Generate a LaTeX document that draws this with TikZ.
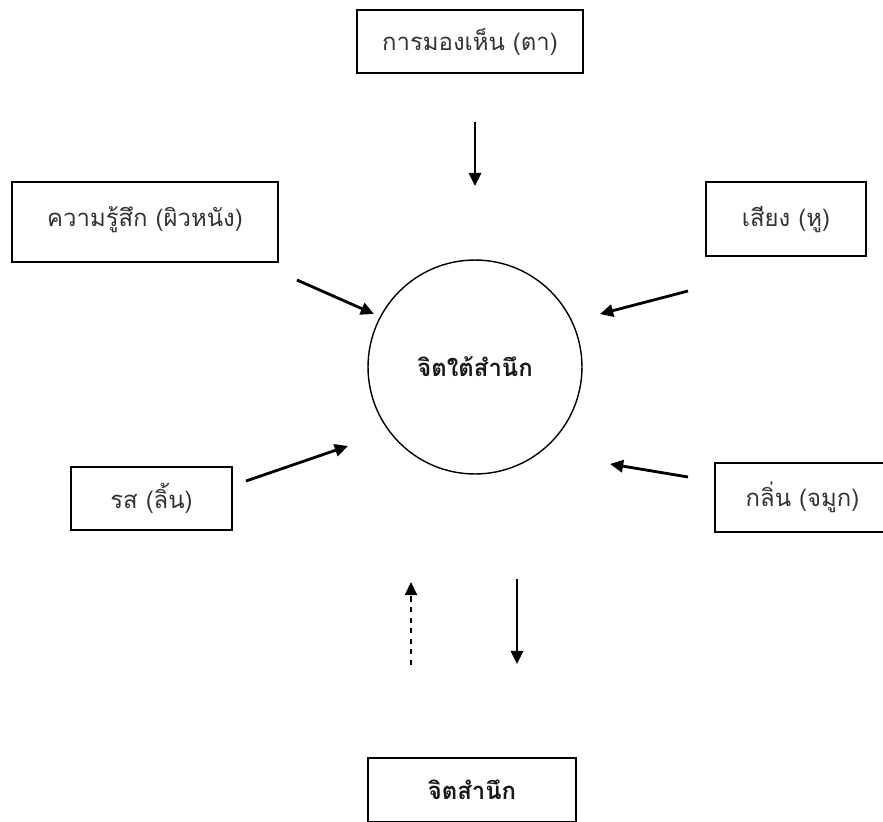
\documentclass[tikz,border=0pt]{standalone}
\usepackage{fontspec}
\newfontfamily\thaifont[Script=Thai]{Loma}
\usetikzlibrary{arrows.meta}
\begin{document}
\begin{tikzpicture}[x=0.02cm, y=-0.02cm, font=\thaifont\fontsize{13.6}{15}\selectfont,
  sense/.style={draw, line width=0.8pt, inner sep=0pt, align=center, text=black!80},
  mind/.style={font=\thaifont\bfseries\fontsize{13.6}{15}\selectfont, text=black!90},
  feed/.style={-{Triangle[length=7.5pt, width=7pt]}, line width=1.6pt}]
  \useasboundingbox (0,0) rectangle (883,822);
  \clip (0,0) rectangle (883,822);
  \node[sense, minimum width=4.52cm, minimum height=1.26cm] (eye) at (470,41.5) {การมองเห็น (ตา)};
  \node[sense, minimum width=5.32cm, minimum height=1.6cm, text depth=6pt] (skin) at (145,222) {ความรู้สึก (ผิวหนัง)};
  \node[sense, minimum width=3.2cm, minimum height=1.48cm] (ear) at (786,219) {เสียง (หู)};
  \node[sense, minimum width=3.22cm, minimum height=1.26cm] (tongue) at (151.5,498.5) {รส (ลิ้น)};
  \node[sense, minimum width=3.5cm, minimum height=1.38cm] (nose) at (802.5,497.5) {กลิ่น (จมูก)};
  \node[sense, mind, minimum width=4.16cm, minimum height=1.28cm] (con) at (472,790) {จิตสำนึก};
  \node[draw, circle, line width=0.8pt, minimum size=4.28cm, mind] (sub) at (475,367) {จิตใต้สำนึก};
  % arrow ends
  \coordinate (e1) at (475,122); \coordinate (e2) at (475,186);
  \coordinate (s1) at (297,280); \coordinate (s2) at (374,314);
  \coordinate (h1) at (688,291); \coordinate (h2) at (600,314);
  \coordinate (t1) at (246,481); \coordinate (t2) at (348,446);
  \coordinate (n1) at (688,477); \coordinate (n2) at (610,464);
  \coordinate (u1) at (411,665); \coordinate (u2) at (411,582);
  \coordinate (d1) at (517,579); \coordinate (d2) at (517,664);
  \draw[feed] (e1) -- (e2);
  \draw[feed] (s1) -- (s2);
  \draw[feed] (h1) -- (h2);
  \draw[feed] (t1) -- (t2);
  \draw[feed] (n1) -- (n2);
  \draw[feed, line width=1pt, dashed] (u1) -- (u2);
  \draw[feed] (d1) -- (d2);
\end{tikzpicture}
\end{document}
